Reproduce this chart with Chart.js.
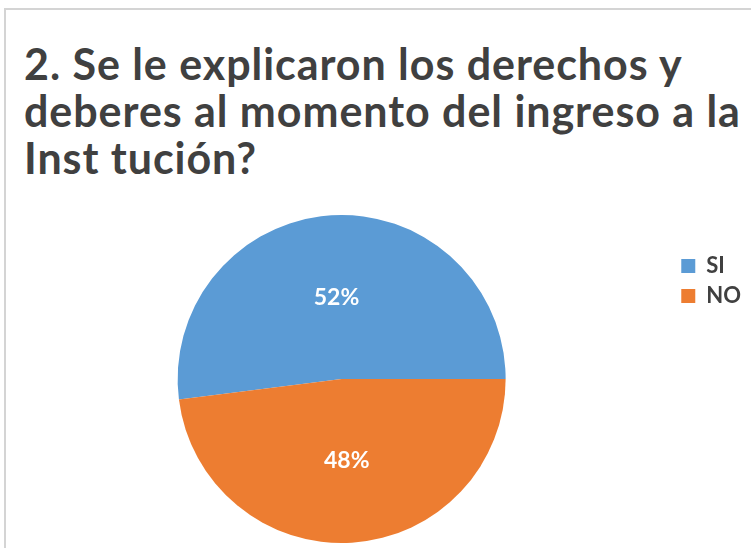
<!DOCTYPE html>
<html lang="es">
<head>
<meta charset="utf-8">
<title>Derechos y deberes</title>
<script src="https://cdn.jsdelivr.net/npm/chart.js@4.4.1/dist/chart.umd.min.js"></script>
<style>
  html, body { margin: 0; padding: 0; background: #fff; }
  #wrap { position: relative; width: 751px; height: 548px; overflow: hidden; }
  #frame {
    position: absolute; left: 4px; top: 8px; width: 800px; height: 600px;
    border-left: 2px solid #d4d4d4; border-top: 2px solid #d4d4d4;
  }
  #title {
    position: absolute; left: 24px; top: 40px; margin: 0;
    font: 700 43px/47px Lato, sans-serif; letter-spacing: 0.95px;
    color: #404040; white-space: nowrap;
  }
  #chart-box { position: absolute; left: 0; top: 0; width: 751px; height: 548px; }
</style>
</head>
<body>
<div id="wrap">
  <div id="frame"></div>
  <h1 id="title">2. Se le explicaron los derechos y<br>deberes al momento del ingreso a la<br>Inst tución?</h1>
  <div id="chart-box"><canvas id="pie-chart"></canvas></div>
</div>
<script>
const categories = ['SI', 'NO'];
const values = [52, 48];
const sliceColors = ['#5b9bd5', '#ed7d31'];

const total = values.reduce((a, b) => a + b, 0);
const percentLabels = values.map((v) => Math.round((v / total) * 100) + '%');

// white % labels in the middle of each slice
const sliceLabels = {
  id: 'sliceLabels',
  afterDatasetsDraw(chart) {
    const ctx = chart.ctx;
    const meta = chart.getDatasetMeta(0);
    ctx.save();
    ctx.font = 'bold 23px Lato, sans-serif';
    ctx.fillStyle = '#ffffff';
    ctx.textAlign = 'center';
    ctx.textBaseline = 'middle';
    meta.data.forEach((arc, i) => {
      const pos = arc.tooltipPosition();
      ctx.fillText(percentLabels[i], pos.x, pos.y);
    });
    ctx.restore();
  },
};

const ctx = document.getElementById('pie-chart').getContext('2d');
const pieChart = new Chart(ctx, {
  type: 'pie',
  data: {
    labels: categories,
    datasets: [
      {
        data: values,
        backgroundColor: sliceColors,
        borderWidth: 0,
      },
    ],
  },
  options: {
    responsive: true,
    maintainAspectRatio: false,
    animation: false,
    devicePixelRatio: 1,
    // SI ends at 3 o'clock, NO runs clockwise from there
    rotation: 90 - (360 * values[0]) / total,
    layout: {
      padding: { top: 215, bottom: 5, left: 10, right: 0 },
    },
    plugins: {
      title: { display: false },
      tooltip: { enabled: false },
      legend: {
        position: 'right',
        align: 'start',
        title: {
          display: true,
          text: '',
          font: { size: 20, lineHeight: 1 },
          padding: 6,
        },
        labels: {
          boxWidth: 14,
          boxHeight: 14,
          padding: 8,
          color: '#404040',
          font: { family: 'Lato, sans-serif', size: 22, weight: 'bold' },
        },
      },
    },
  },
  plugins: [sliceLabels],
});
</script>
</body>
</html>
